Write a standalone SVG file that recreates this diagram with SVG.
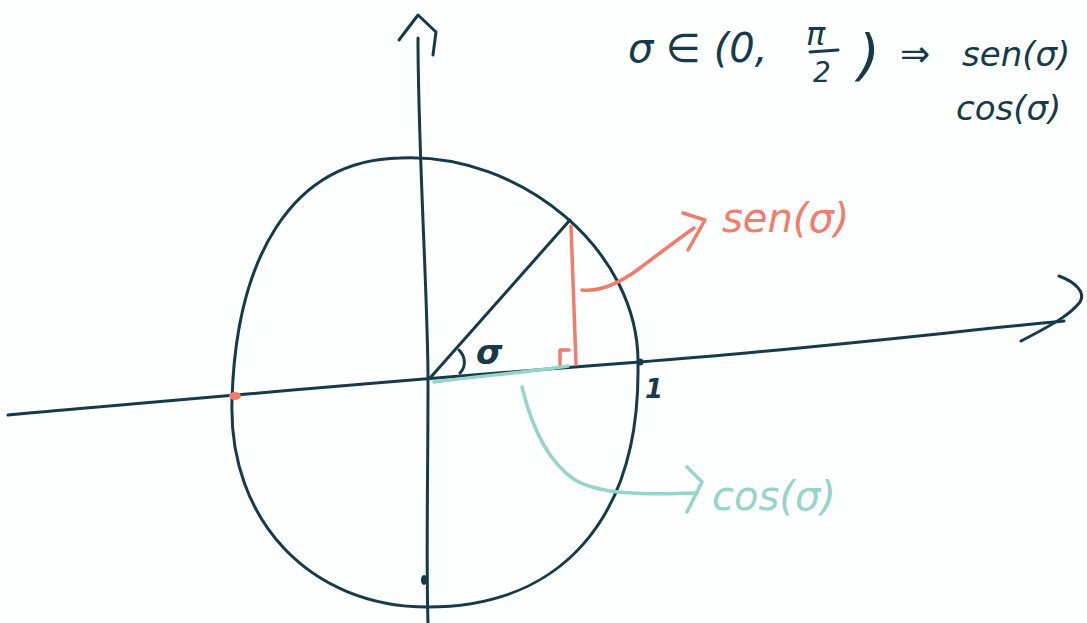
<svg xmlns="http://www.w3.org/2000/svg" width="1087" height="623" viewBox="0 0 1087 623">
<style>
.ink{fill:none;stroke:#163a4a;stroke-width:3;stroke-linecap:round;stroke-linejoin:round}
.red{fill:none;stroke:#f07c6a;stroke-width:3.5;stroke-linecap:round;stroke-linejoin:round}
.teal{fill:none;stroke:#95d4c9;stroke-width:3.5;stroke-linecap:round;stroke-linejoin:round}
.t{font-family:"DejaVu Sans","Noto Sans",sans-serif;font-style:italic}
.td{fill:#163a4a}
.tr{fill:#f07c6a}
.tt{fill:#95d4c9}
</style>
<rect width="1087" height="623" fill="#fdfefe"/>
<g id="axes">
<path class="ink" d="M418,38 C418,150 428,300 428,380 C428,480 426,560 428,623"/>
<path class="ink" d="M399,40 L418,15 L436,32 L433,55"/>
<path class="ink" d="M8,415 C200,398 400,380 640,362 C800,350 950,332 1064,321"/>
<path class="ink" d="M1059,276 C1075,282 1086,292 1080,302 C1072,312 1062,320 1021,341"/>
</g>
<g id="circle">
<path class="ink" d="M400,158 C520,152 640,250 638,365 C640,520 560,607 428,607 C310,607 228,520 232,400 C236,260 290,160 400,158 Z"/>
<circle cx="640" cy="362" r="3.5" fill="#163a4a"/>
<ellipse cx="424" cy="580" rx="3" ry="5" fill="#163a4a"/>
</g>
<g id="radius">
<path class="ink" d="M430,378 L570,220"/>
<path class="ink" d="M459,350 C466,357 466,367 460,373"/>
</g>
<g id="sine">
<path class="red" d="M571,226 L576,364"/>
<path class="red" d="M560,365 L560,350 L569,350"/>
<ellipse cx="235" cy="396" rx="6" ry="4" fill="#f07c6a"/>
</g>
<g id="cosine">
<path class="teal" d="M434,382 C480,376 530,372 568,366" stroke-width="5"/>
</g>
<g id="connectors">
<path class="red" d="M582,290 C600,292 620,283 640,268 C655,257 670,245 694,228"/>
<path class="red" d="M683,213 L705,220 L688,250"/>
<path class="teal" d="M522,387 C530,420 545,460 575,480 C600,494 640,495 697,493"/>
<path class="teal" d="M687,467 L702,482 L687,512"/>
</g>
<g id="labels">
<text class="t td" x="476" y="364" font-size="34" font-weight="bold">σ</text>
<text class="t td" x="645" y="398" font-size="26" font-weight="bold">1</text>
<text class="t tr" x="722" y="232" font-size="40">sen(σ)</text>
<text class="t tt" x="712" y="510" font-size="40">cos(σ)</text>
<text class="t td" x="628" y="62" font-size="40">σ ∈ (0,</text>
<text class="t td" x="806" y="45" font-size="32">π</text>
<path class="ink" d="M810,52 L838,50"/>
<text class="t td" x="813" y="82" font-size="28">2</text>
<text class="t td" x="858" y="74" font-size="56">)</text>
<text class="t td" x="900" y="66" font-size="36">⇒</text>
<text class="t td" x="962" y="66" font-size="34">sen(σ)</text>
<text class="t td" x="956" y="120" font-size="34">cos(σ)</text>
</g>
</svg>
